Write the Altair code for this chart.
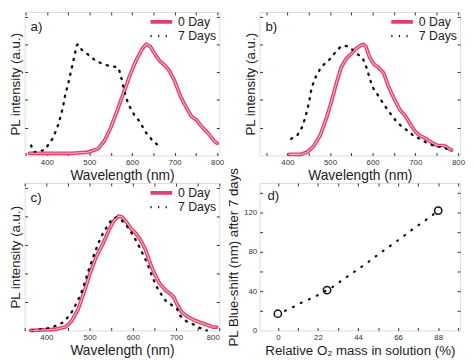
import altair as alt
import pandas as pd

RED = "#e2406a"
PINK = "#f6b3c4"
INK = "#222222"
FONT = "Liberation Sans"

SERIES = ["0 Day", "7 Days"]

# ---- panel a ----
a0_wl = [359, 380, 420, 460, 497, 520, 535, 550, 564, 579, 594, 609, 624, 633, 643, 654,
         665, 677, 688, 699, 714, 729, 740, 751, 766, 781, 793, 800]
a0_i = [0.02, 0.02, 0.02, 0.02, 0.03, 0.06, 0.13, 0.25, 0.39, 0.55, 0.71, 0.85, 0.96, 1.0,
        0.98, 0.91, 0.85, 0.81, 0.76, 0.68, 0.53, 0.42, 0.35, 0.32, 0.25, 0.19, 0.13, 0.11]
a7_wl = [363, 370, 395, 415, 428, 437, 443, 451, 458, 464, 470, 473, 482, 496, 512, 527,
         542, 557, 568, 573, 579, 585, 593, 606, 617, 632, 647, 662]
a7_i = [0.09, 0.03, 0.05, 0.16, 0.29, 0.42, 0.54, 0.66, 0.78, 0.88, 0.99, 1.0, 0.95, 0.91,
        0.86, 0.83, 0.81, 0.80, 0.79, 0.73, 0.63, 0.53, 0.45, 0.36, 0.31, 0.21, 0.14, 0.09]

# ---- panel b ----
b0_wl = [404, 431, 446, 461, 477, 492, 503, 515, 526, 538, 549, 561, 572, 578, 584, 592,
         603, 614, 626, 637, 653, 664, 676, 687, 699, 710, 726, 741, 752, 768, 779, 785]
b0_i = [0.01, 0.01, 0.03, 0.08, 0.18, 0.34, 0.48, 0.65, 0.79, 0.87, 0.91, 0.96, 0.99, 1.0,
        0.98, 0.89, 0.82, 0.79, 0.74, 0.62, 0.49, 0.41, 0.36, 0.29, 0.22, 0.18, 0.15, 0.11,
        0.09, 0.09, 0.06, 0.05]
b7_wl = [409, 423, 434, 442, 450, 457, 467, 480, 496, 511, 523, 533, 542, 553, 565, 576,
         584, 592, 599, 611, 626, 641, 653, 668, 683, 695, 710, 729, 749, 768, 783]
b7_i = [0.15, 0.18, 0.25, 0.34, 0.46, 0.61, 0.71, 0.80, 0.85, 0.92, 0.97, 0.99, 0.98, 0.95,
        0.91, 0.88, 0.81, 0.71, 0.62, 0.55, 0.46, 0.38, 0.32, 0.26, 0.22, 0.18, 0.15, 0.11,
        0.08, 0.08, 0.02]

# ---- panel c ----
c0_wl = [364, 422, 444, 458, 473, 487, 502, 516, 531, 545, 556, 567, 576, 585, 596, 607,
         618, 629, 640, 651, 662, 676, 687, 695, 702, 713, 727, 742, 756, 771, 785, 794]
c0_i = [0.0, 0.01, 0.03, 0.08, 0.18, 0.33, 0.51, 0.65, 0.76, 0.88, 0.96, 1.0, 0.99, 0.95,
        0.89, 0.85, 0.79, 0.71, 0.59, 0.49, 0.41, 0.35, 0.32, 0.29, 0.23, 0.16, 0.12, 0.09,
        0.07, 0.05, 0.03, 0.03]
c7_wl = [367, 385, 404, 422, 438, 451, 462, 471, 480, 489, 498, 509, 520, 531, 542, 553,
         564, 575, 585, 596, 607, 618, 633, 644, 654, 665, 676, 691, 702, 709, 724, 742,
         756, 771]
c7_i = [0.0, 0.01, 0.02, 0.04, 0.07, 0.12, 0.18, 0.25, 0.32, 0.42, 0.53, 0.65, 0.76, 0.85,
        0.92, 0.98, 0.99, 0.96, 0.92, 0.86, 0.79, 0.71, 0.59, 0.48, 0.39, 0.32, 0.26, 0.22,
        0.19, 0.13, 0.08, 0.05, 0.02, 0.0]

# ---- panel d ----
d_o2 = [0, 27, 88]
d_shift = [17, 41, 122]
d_fit_x = [3.9, 8.5, 12.4, 16.9, 21, 25, 29.9, 33.4, 37.3, 41.2, 45, 48.9, 52.4, 56, 59.6,
           63.6, 67.2, 71.1, 74.7, 78.6, 82.7, 86]
d_fit_y = [19.9, 23.9, 27.8, 31.5, 35, 39, 44, 48.7, 53.7, 58.7, 63.6, 68.6, 73.6, 78.6,
           83.5, 88.5, 93.5, 99, 104, 109, 114.4, 119]

WL_LABELS = [400, 500, 600, 700, 800]
WL_TICKS = [350, 400, 450, 500, 550, 600, 650, 700, 750, 800]
I_TICKS = [0.25, 0.5, 0.75, 1.0, 1.25]

TICK = dict(domain=False, grid=False, labels=False, title=None, ticks=True,
            tickSize=3, tickColor="#333", tickWidth=1)


def spectrum(label, wl0, i0, wl7, i7, xdom, W, H):
    df = pd.concat([
        pd.DataFrame({"wl": wl0, "inten": i0, "series": SERIES[0]}),
        pd.DataFrame({"wl": wl7, "inten": i7, "series": SERIES[1]}),
    ])
    xs = alt.Scale(domain=xdom, nice=False, zero=False)
    ys = alt.Scale(domain=[0, 1.29], nice=False, zero=False)
    leg = alt.Legend(title=None, orient="top-right", offset=3, padding=0,
                     labelFontSize=12.5, labelFont=FONT, labelColor=INK,
                     symbolType="M-2.2,0L2.2,0", symbolSize=100, labelOffset=10,
                     symbolStrokeWidth=2, rowPadding=0)
    base = alt.Chart(df)
    main = base.mark_line(strokeCap="round", strokeJoin="round").encode(
        x=alt.X("wl:Q", scale=xs, axis=alt.Axis(
            orient="bottom", values=WL_LABELS, ticks=False, domain=False, grid=False,
            labelFontSize=8, labelColor="#333", labelFont=FONT, labelPadding=3,
            title="Wavelength (nm)", titleFontSize=14, titleFont=FONT,
            titleFontWeight="normal", titleColor=INK, titlePadding=2)),
        y=alt.Y("inten:Q", scale=ys, axis=alt.Axis(
            orient="left", labels=False, ticks=False, domain=False, grid=False,
            title="PL intensity (a.u.)", titleFontSize=13.5, titleFont=FONT,
            titleFontWeight="normal", titleColor=INK, titlePadding=2)),
        color=alt.Color("series:N", scale=alt.Scale(domain=SERIES, range=[RED, "#111"]),
                        legend=leg),
        strokeDash=alt.StrokeDash("series:N", scale=alt.Scale(
            domain=SERIES, range=[[1, 0], [1.2, 6.5]]), legend=leg),
        strokeWidth=alt.StrokeWidth("series:N", scale=alt.Scale(
            domain=SERIES, range=[3.8, 2.4]), legend=None),
    )
    inner = base.transform_filter(alt.datum.series == SERIES[0]).mark_line(
        color=PINK, strokeWidth=1.1).encode(
        x=alt.X("wl:Q", scale=xs, axis=alt.Axis(orient="top", offset=-H, values=WL_TICKS, **TICK)),
        y=alt.Y("inten:Q", scale=ys, axis=alt.Axis(orient="right", offset=-W, values=I_TICKS, **TICK)),
    )
    ghost = base.mark_line(opacity=0).encode(
        x=alt.X("wl:Q", scale=xs, axis=alt.Axis(orient="bottom", offset=-H, values=WL_TICKS, **TICK)),
        y=alt.Y("inten:Q", scale=ys, axis=alt.Axis(orient="left", offset=-W, values=I_TICKS, **TICK)),
    )
    lab = alt.Chart(pd.DataFrame({"t": [label]})).mark_text(
        align="left", baseline="alphabetic", fontSize=13.5, font=FONT, color=INK
    ).encode(x=alt.value(6), y=alt.value(19), text="t:N")
    return alt.layer(main, inner, ghost, lab).resolve_axis(x="independent", y="independent") \
        .resolve_scale(color="independent", strokeDash="independent", strokeWidth="independent") \
        .properties(width=W, height=H)


def blue_shift(W, H):
    pts = pd.DataFrame({"o2": d_o2, "shift": d_shift})
    fit = pd.DataFrame({"o2": d_fit_x, "shift": d_fit_y})
    xs = alt.Scale(domain=[-10, 100], nice=False, zero=False)
    ys = alt.Scale(domain=[0, 150], nice=False, zero=False)
    xt = [0, 11, 22, 33, 44, 55, 66, 77, 88, 99]
    yt = [20, 40, 60, 80, 100, 120, 140]
    p = alt.Chart(pts).mark_point(shape="circle", filled=False, size=55, strokeWidth=1.5,
                                  color="#111", opacity=1).encode(
        x=alt.X("o2:Q", scale=xs, axis=alt.Axis(
            orient="bottom", values=[0, 22, 44, 66, 88], ticks=False, domain=False, grid=False,
            labelFontSize=8, labelColor="#333", labelFont=FONT, labelPadding=3,
            title="Relative O₂ mass in solution (%)", titleFontSize=13.5, titleFont=FONT,
            titleFontWeight="normal", titleColor=INK, titlePadding=2)),
        y=alt.Y("shift:Q", scale=ys, axis=alt.Axis(
            orient="left", values=[0, 40, 80, 120], ticks=False, domain=False, grid=False,
            labelFontSize=8, labelColor="#333", labelFont=FONT, labelPadding=3,
            title="PL Blue-shift (nm) after 7 days", titleFontSize=13.5, titleFont=FONT,
            titleFontWeight="normal", titleColor=INK, titlePadding=3)),
    )
    f = alt.Chart(fit).mark_line(color="#111", strokeWidth=2.2, strokeCap="round",
                                 strokeDash=[1, 8]).encode(
        x=alt.X("o2:Q", scale=xs, axis=alt.Axis(orient="top", offset=-H, values=xt, **TICK)),
        y=alt.Y("shift:Q", scale=ys, axis=alt.Axis(orient="right", offset=-W, values=yt, **TICK)),
    )
    g = alt.Chart(pts).mark_line(opacity=0).encode(
        x=alt.X("o2:Q", scale=xs, axis=alt.Axis(orient="bottom", offset=-H, values=xt, **TICK)),
        y=alt.Y("shift:Q", scale=ys, axis=alt.Axis(orient="left", offset=-W, values=yt, **TICK)),
    )
    lab = alt.Chart(pd.DataFrame({"t": ["d)"]})).mark_text(
        align="left", baseline="alphabetic", fontSize=13.5, font=FONT, color=INK
    ).encode(x=alt.value(8), y=alt.value(17), text="t:N")
    return alt.layer(f, p, g, lab).resolve_axis(x="independent", y="independent") \
        .properties(width=W, height=H)


pa = spectrum("a)", a0_wl, a0_i, a7_wl, a7_i, [348, 805], 198, 146)
pb = spectrum("b)", b0_wl, b0_i, b7_wl, b7_i, [335, 805], 204, 146)
pc = spectrum("c)", c0_wl, c0_i, c7_wl, c7_i, [350, 800], 198, 150)
pd_ = blue_shift(204, 150)

chart = alt.concat(pa, pb, pc, pd_, columns=2, spacing={"row": 28, "column": 41},
                   bounds="flush", align="each") \
    .resolve_scale(color="independent", strokeDash="independent", strokeWidth="independent") \
    .resolve_legend(color="independent", strokeDash="independent", strokeWidth="independent") \
    .properties(padding=0) \
    .configure_view(stroke="#333", strokeWidth=1.2) \
    .configure(background="white")

chart.save("out.html", embed_options={"renderer": "svg", "actions": False})
